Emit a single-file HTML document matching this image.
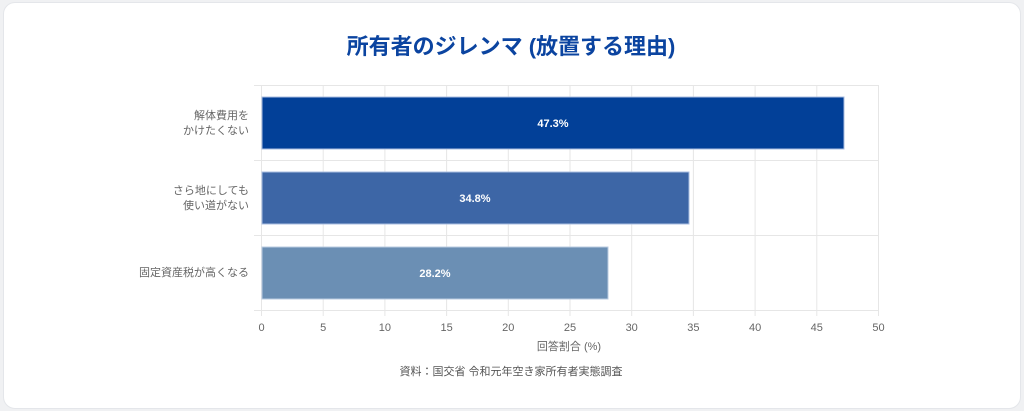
<!DOCTYPE html>
<html><head><meta charset="utf-8"><style>
html,body{margin:0;padding:0;background:#f0f1f3;width:1024px;height:411px;overflow:hidden}
.card{position:absolute;left:3px;top:2px;width:1016px;height:405px;background:#fff;border-radius:12px;border:1px solid #e4e6ea}
svg{position:absolute;left:0;top:0}
text{font-family:"Liberation Sans","Noto Sans CJK JP",sans-serif}
</style></head><body>
<div class="card"></div>
<svg width="1024" height="411">
<text x="511" y="54" text-anchor="middle" font-size="22" font-weight="bold" fill="#0b44a0">所有者のジレンマ (放置する理由)</text>
<g stroke="#e6e6e6" stroke-width="1">
<line x1="261.5" y1="85" x2="261.5" y2="316"/>
<line x1="323.2" y1="85" x2="323.2" y2="316"/>
<line x1="384.9" y1="85" x2="384.9" y2="316"/>
<line x1="446.6" y1="85" x2="446.6" y2="316"/>
<line x1="508.3" y1="85" x2="508.3" y2="316"/>
<line x1="570" y1="85" x2="570" y2="316"/>
<line x1="631.7" y1="85" x2="631.7" y2="316"/>
<line x1="693.4" y1="85" x2="693.4" y2="316"/>
<line x1="755.1" y1="85" x2="755.1" y2="316"/>
<line x1="816.8" y1="85" x2="816.8" y2="316"/>
<line x1="878.5" y1="85" x2="878.5" y2="316"/>
<line x1="254" y1="85.5" x2="878" y2="85.5"/>
<line x1="254" y1="160.5" x2="878" y2="160.5"/>
<line x1="254" y1="235.5" x2="878" y2="235.5"/>
<line x1="254" y1="310.5" x2="878" y2="310.5"/>
</g>
<rect x="262" y="97" width="582" height="52" fill="#024098" stroke="#a9bde0" stroke-width="1"/>
<rect x="262" y="172" width="427" height="52" fill="#3d66a6" stroke="#a9bde0" stroke-width="1"/>
<rect x="262" y="247" width="346" height="52" fill="#6b8fb4" stroke="#b9cbe0" stroke-width="1"/>
<g fill="#fff" font-size="11" font-weight="bold" text-anchor="middle">
<text x="553" y="127">47.3%</text>
<text x="475" y="202">34.8%</text>
<text x="435" y="277">28.2%</text>
</g>
<g fill="#666" font-size="11" text-anchor="end">
<text x="249" y="119">解体費用を</text>
<text x="249" y="134">かけたくない</text>
<text x="249" y="194">さら地にしても</text>
<text x="249" y="209">使い道がない</text>
<text x="249" y="276">固定資産税が高くなる</text>
</g>
<g fill="#666" font-size="11" text-anchor="middle">
<text x="261.5" y="331">0</text><text x="323.2" y="331">5</text><text x="384.9" y="331">10</text>
<text x="446.6" y="331">15</text><text x="508.3" y="331">20</text><text x="570" y="331">25</text>
<text x="631.7" y="331">30</text><text x="693.4" y="331">35</text><text x="755.1" y="331">40</text>
<text x="816.8" y="331">45</text><text x="878.5" y="331">50</text>
<text x="569" y="350">回答割合 (%)</text>
</g>
<text x="511" y="375" text-anchor="middle" font-size="11" fill="#555">資料：国交省 令和元年空き家所有者実態調査</text>
</svg>
</body></html>
